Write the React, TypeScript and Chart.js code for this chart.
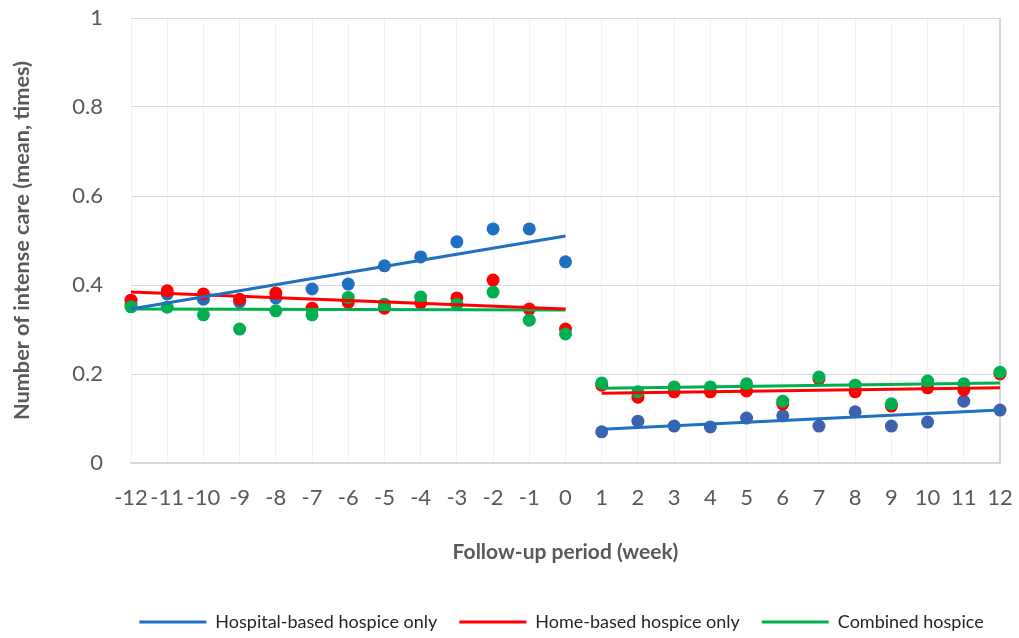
import { useEffect, useRef } from "react";
import { Chart, registerables } from "chart.js";

Chart.register(...registerables);

// Weeks before and after the start of hospice care
const weeksBefore = [-12, -11, -10, -9, -8, -7, -6, -5, -4, -3, -2, -1, 0];
const weeksAfter = [1, 2, 3, 4, 5, 6, 7, 8, 9, 10, 11, 12];

// Mean number of intense care episodes per week
const hospitalBefore = [0.355, 0.38, 0.368, 0.362, 0.371, 0.391, 0.402, 0.443, 0.463, 0.497, 0.526, 0.526, 0.452];
const hospitalAfter = [0.07, 0.094, 0.083, 0.081, 0.101, 0.106, 0.083, 0.115, 0.083, 0.092, 0.139, 0.119];
const homeBefore = [0.366, 0.387, 0.38, 0.368, 0.382, 0.348, 0.361, 0.348, 0.36, 0.371, 0.411, 0.346, 0.301];
const homeAfter = [0.175, 0.148, 0.16, 0.16, 0.162, 0.133, 0.189, 0.16, 0.128, 0.169, 0.164, 0.2];
const combinedBefore = [0.351, 0.35, 0.333, 0.301, 0.342, 0.333, 0.372, 0.357, 0.373, 0.357, 0.384, 0.321, 0.29];
const combinedAfter = [0.18, 0.16, 0.171, 0.171, 0.178, 0.139, 0.193, 0.175, 0.133, 0.184, 0.178, 0.204];

// Linear trend values at the first and last week of each period
const hospitalTrendBefore = [0.346, 0.51];
const hospitalTrendAfter = [0.076, 0.119];
const homeTrendBefore = [0.384, 0.346];
const homeTrendAfter = [0.157, 0.169];
const combinedTrendBefore = [0.346, 0.344];
const combinedTrendAfter = [0.168, 0.18];

const seriesNames = ["Hospital-based hospice only", "Home-based hospice only", "Combined hospice"];
const xTickLabels = [...weeksBefore, ...weeksAfter].map((w) => String(w));
const yTickLabels = ["0", "0.2", "0.4", "0.6", "0.8", "1"];

const FONT = "Lato, 'Open Sans', sans-serif";
const TEXT = "#595959";

const BLUE = "#1F70C1";
const BLUE_DOT_AFTER = "#3F62AE";
const RED = "#FF0000";
const GREEN = "#00B050";
const seriesColors = [BLUE, RED, GREEN];

const points = (xs: number[], ys: number[]) => xs.map((x, i) => ({ x, y: ys[i] }));
const ends = (xs: number[], ys: number[]) => [
  { x: xs[0], y: ys[0] },
  { x: xs[xs.length - 1], y: ys[1] },
];

// Legend row under the axis title: a short coloured line followed by the series name
const seriesLegend = {
  id: "seriesLegend",
  afterDraw(chart: any) {
    const { ctx, chartArea } = chart;
    const lineW = 67;
    const gap = 9;
    const spacing = 22;
    ctx.save();
    ctx.font = `18px ${FONT}`;
    ctx.textBaseline = "middle";
    ctx.textAlign = "left";
    const widths = seriesNames.map((name) => lineW + gap + ctx.measureText(name).width);
    const total = widths.reduce((a, b) => a + b, 0) + spacing * (widths.length - 1);
    let x = (chartArea.left + chartArea.right) / 2 - 4 - total / 2;
    const y = chart.height - 16;
    seriesNames.forEach((name, i) => {
      ctx.fillStyle = seriesColors[i];
      ctx.fillRect(x, y - 1.5, lineW, 3);
      ctx.fillStyle = "#262626";
      ctx.fillText(name, x + lineW + gap, y);
      x += widths[i] + spacing;
    });
    ctx.restore();
  },
};

export default function App() {
  const canvasRef = useRef<HTMLCanvasElement | null>(null);

  useEffect(() => {
    if (!canvasRef.current) return;
    const weeks = [...weeksBefore, ...weeksAfter];

    const trend = (label: string, color: string, data: any[], order: number) => ({
      type: "line" as const,
      label,
      data,
      borderColor: color,
      backgroundColor: color,
      borderWidth: 3,
      pointRadius: 0,
      showLine: true,
      clip: false,
      order,
    });

    const dots = (label: string, colors: string | string[], data: any[], order: number) => ({
      type: "scatter" as const,
      label,
      data,
      pointRadius: 6.5,
      pointBorderWidth: 0,
      pointBackgroundColor: colors,
      backgroundColor: colors,
      showLine: false,
      clip: false,
      order,
    });

    const blueDotColors = weeks.map((w) => (w <= 0 ? BLUE : BLUE_DOT_AFTER));

    const chart = new Chart(canvasRef.current, {
      type: "scatter",
      data: {
        datasets: [
          trend(seriesNames[0], BLUE, ends(weeksBefore, hospitalTrendBefore), 0),
          trend(seriesNames[0], BLUE, ends(weeksAfter, hospitalTrendAfter), 0),
          trend(seriesNames[1], RED, ends(weeksBefore, homeTrendBefore), 1),
          trend(seriesNames[1], RED, ends(weeksAfter, homeTrendAfter), 1),
          trend(seriesNames[2], GREEN, ends(weeksBefore, combinedTrendBefore), 2),
          trend(seriesNames[2], GREEN, ends(weeksAfter, combinedTrendAfter), 2),
          dots(seriesNames[2], GREEN, points(weeks, [...combinedBefore, ...combinedAfter]), 10),
          dots(seriesNames[1], RED, points(weeks, [...homeBefore, ...homeAfter]), 11),
          dots(seriesNames[0], blueDotColors, points(weeks, [...hospitalBefore, ...hospitalAfter]), 12),
        ] as any,
      },
      options: {
        animation: false,
        responsive: true,
        maintainAspectRatio: false,
        layout: { padding: { top: 18, right: 19, bottom: 65, left: 0 } },
        plugins: {
          tooltip: { enabled: false },
          legend: { display: false },
        },
        scales: {
          x: {
            type: "linear",
            min: weeks[0],
            max: weeks[weeks.length - 1],
            afterFit: (scale: any) => {
              scale.height = 110;
              scale.paddingLeft = 0;
              scale.paddingRight = 0;
            },
            ticks: {
              stepSize: 1,
              autoSkip: false,
              maxRotation: 0,
              padding: 22,
              color: TEXT,
              font: { family: FONT, size: 22 },
              callback: (v: any) => xTickLabels[weeks.indexOf(Number(v))] ?? "",
            },
            grid: {
              drawTicks: false,
              color: (ctx: any) => (ctx.tick && ctx.tick.value === weeks[weeks.length - 1] ? "#D3D9E2" : "#F2F2F2"),
              lineWidth: (ctx: any) => (ctx.tick && ctx.tick.value === weeks[weeks.length - 1] ? 2 : 1),
            },
            border: { color: "#D3D9E2", width: 2 },
            title: {
              display: true,
              text: "Follow-up period (week)",
              color: TEXT,
              font: { family: FONT, size: 21, weight: "bold" },
              padding: { top: 0, bottom: 8 },
            },
          },
          y: {
            min: 0,
            max: 1,
            afterFit: (scale: any) => {
              scale.width = 131;
              scale.paddingTop = 0;
              scale.paddingBottom = 0;
            },
            ticks: {
              stepSize: 0.2,
              padding: 28,
              color: TEXT,
              font: { family: FONT, size: 22 },
              callback: (v: any) => yTickLabels[Math.round(Number(v) * 5)] ?? "",
            },
            grid: { drawTicks: false, color: "#D9D9D9" },
            border: { display: false },
            title: {
              display: true,
              text: "Number of intense care (mean, times)",
              color: TEXT,
              font: { family: FONT, size: 21.7, weight: "bold" },
              padding: { top: 9, bottom: 0 },
            },
          },
        },
      } as any,
      plugins: [seriesLegend],
    });

    return () => chart.destroy();
  }, []);

  return (
    <div style={{ position: "fixed", left: 0, top: 0, width: 1019, height: 638, background: "#fff" }}>
      <canvas ref={canvasRef} />
    </div>
  );
}
